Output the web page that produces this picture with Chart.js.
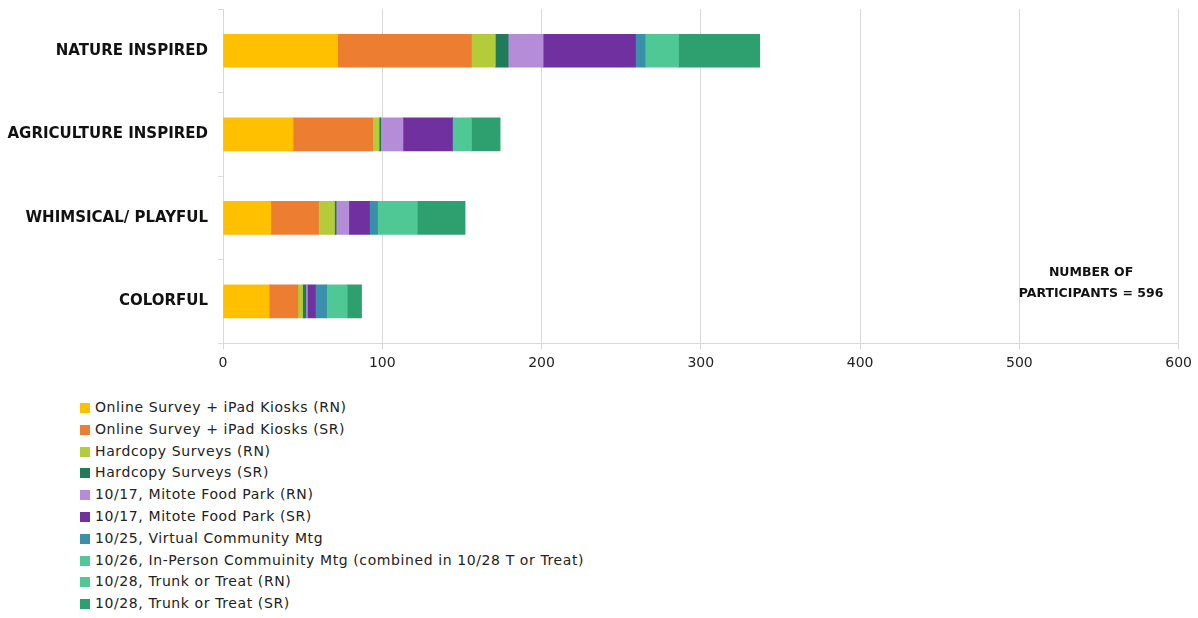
<!DOCTYPE html>
<html>
<head>
<meta charset="utf-8">
<script src="https://cdn.jsdelivr.net/npm/chart.js@4"></script>
<style>
  body { margin: 0; background: #fff; font-family: "DejaVu Sans", sans-serif; }
  #wrap { position: relative; width: 1198px; height: 378px; }
  #legend { list-style: none; margin: 0; padding: 0; position: absolute; left: 80px; top: 397px; }
  #legend li { height: 21.8px; line-height: 21.8px; font-size: 14px; letter-spacing: 0.6px; color: #222; white-space: nowrap; }
  #legend span.box { display: inline-block; width: 10px; height: 10px; margin-right: 5px; vertical-align: -1px; }
</style>
</head>
<body>
<div id="wrap"><canvas id="chart" width="1198" height="378"></canvas></div>
<ul id="legend"></ul>
<script>
// categories (top to bottom)
const styles = ["NATURE INSPIRED", "AGRICULTURE INSPIRED", "WHIMSICAL/ PLAYFUL", "COLORFUL"];

// participants per source, one value per style
const onlineRN   = [72, 44, 30, 29];
const onlineSR   = [84, 50, 30, 18];
const hardcopyRN = [15, 4, 10, 3];
const hardcopySR = [8, 1, 1, 2];
const mitoteRN   = [22, 14, 8, 1];
const mitoteSR   = [58, 31, 13, 5];
const virtualMtg = [6, 0, 5, 7];
const inPerson   = [0, 0, 0, 0];
const trunkRN    = [21, 12, 25, 13];
const trunkSR    = [51, 18, 30, 9];

const xTicks = [0, 100, 200, 300, 400, 500, 600];
const totalParticipants = 596;

const series = [
  { label: "Online Survey + iPad Kiosks (RN)", data: onlineRN, color: "#ffc000" },
  { label: "Online Survey + iPad Kiosks (SR)", data: onlineSR, color: "#ed7d31" },
  { label: "Hardcopy Surveys (RN)", data: hardcopyRN, color: "#b4cc3a" },
  { label: "Hardcopy Surveys (SR)", data: hardcopySR, color: "#1f7b5a" },
  { label: "10/17, Mitote Food Park (RN)", data: mitoteRN, color: "#b48cd8" },
  { label: "10/17, Mitote Food Park (SR)", data: mitoteSR, color: "#7030a0" },
  { label: "10/25, Virtual Community Mtg", data: virtualMtg, color: "#3a8fab" },
  { label: "10/26, In-Person Commuinity Mtg (combined in 10/28 T or Treat)", data: inPerson, color: "#52c79a" },
  { label: "10/28, Trunk or Treat (RN)", data: trunkRN, color: "#4fc896" },
  { label: "10/28, Trunk or Treat (SR)", data: trunkSR, color: "#2ea070" },
];

// note text near the bottom-right of the plot
const noteText = {
  id: "noteText",
  afterDraw(chart) {
    const ctx = chart.ctx;
    const x = chart.scales.x.getPixelForValue(545);
    const y = chart.scales.y.getPixelForValue(3);
    ctx.save();
    ctx.font = "bold 12.5px 'DejaVu Sans'";
    ctx.fillStyle = "#111";
    ctx.textAlign = "center";
    ctx.textBaseline = "middle";
    ctx.fillText("NUMBER OF", x, y - 29);
    ctx.fillText("PARTICIPANTS = " + totalParticipants, x, y - 8);
    ctx.restore();
  }
};

const chart = new Chart(document.getElementById("chart"), {
  type: "bar",
  data: {
    labels: styles,
    datasets: series.map(s => ({
      label: s.label,
      data: s.data,
      backgroundColor: s.color,
      borderWidth: 0,
      barThickness: 33,
    })),
  },
  options: {
    indexAxis: "y",
    responsive: false,
    animation: false,
    layout: { padding: { top: 9, right: 19, bottom: 0, left: 0 } },
    plugins: { legend: { display: false }, tooltip: { enabled: false } },
    scales: {
      x: {
        stacked: true,
        min: 0,
        max: 600,
        afterBuildTicks: s => { s.ticks = xTicks.map(v => ({ value: v })); },
        grid: { color: "#d9d9d9", lineWidth: 1, tickLength: 6 },
        border: { color: "#d9d9d9" },
        ticks: { color: "#222", font: { family: "DejaVu Sans", size: 14 }, padding: 6 },
      },
      y: {
        stacked: true,
        afterFit: s => { s.width = 223; s.paddingTop = 0; s.paddingBottom = 0; },
        grid: { drawOnChartArea: false, offset: true, tickLength: 5, color: "#d9d9d9" },
        border: { color: "#d9d9d9" },
        ticks: { color: "#111", font: { family: "DejaVu Sans", size: 15, weight: "bold" }, padding: 10 },
      },
    },
  },
  plugins: [noteText],
});

// legend list, one entry per dataset
const legend = document.getElementById("legend");
chart.data.datasets.forEach(ds => {
  const li = document.createElement("li");
  const box = document.createElement("span");
  box.className = "box";
  box.style.background = ds.backgroundColor;
  li.appendChild(box);
  li.appendChild(document.createTextNode(ds.label));
  legend.appendChild(li);
});
</script>
</body>
</html>
